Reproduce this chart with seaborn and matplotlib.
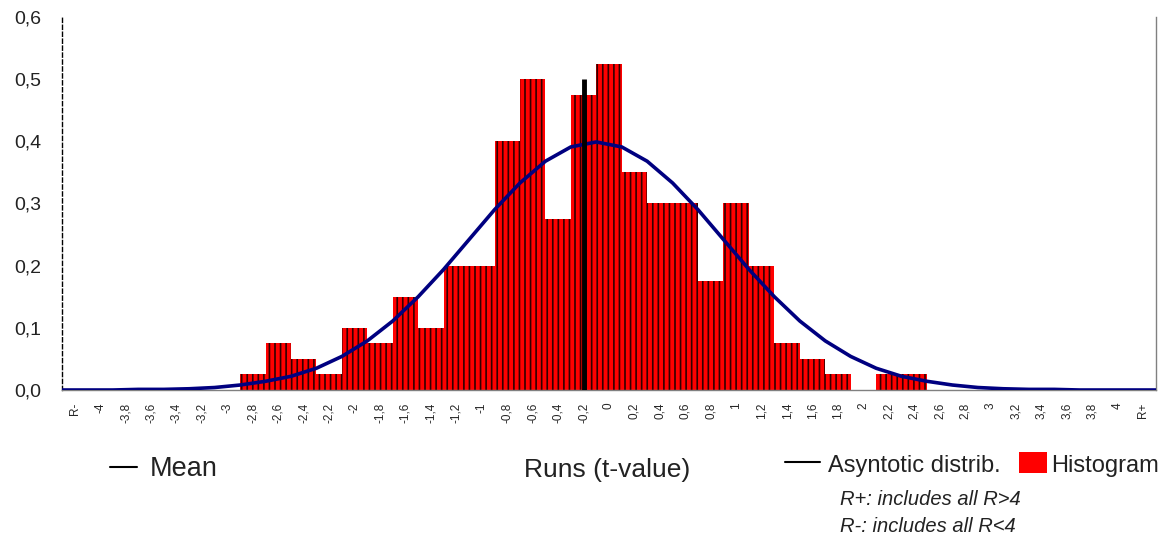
import numpy as np
import pandas as pd
import matplotlib
matplotlib.use("Agg")
import matplotlib.pyplot as plt
from matplotlib.lines import Line2D
from matplotlib.patches import Rectangle
import seaborn as sns

# categories (bins of width 0.2, plus the two open-ended bins)
bin_labels = ["R-", "-4", "-3,8", "-3,6", "-3,4", "-3,2", "-3", "-2,8", "-2,6", "-2,4",
              "-2,2", "-2", "-1,8", "-1,6", "-1,4", "-1,2", "-1", "-0,8", "-0,6", "-0,4",
              "-0,2", "0", "0,2", "0,4", "0,6", "0,8", "1", "1,2", "1,4", "1,6",
              "1,8", "2", "2,2", "2,4", "2,6", "2,8", "3", "3,2", "3,4", "3,6",
              "3,8", "4", "R+"]

# histogram density per bin
hist_density = [0, 0, 0, 0, 0, 0, 0, 0.025, 0.075, 0.05,
                0.025, 0.1, 0.075, 0.15, 0.1, 0.2, 0.2, 0.4, 0.5, 0.275,
                0.475, 0.525, 0.35, 0.3, 0.3, 0.175, 0.3, 0.2, 0.075, 0.05,
                0.025, 0, 0.025, 0.025, 0, 0, 0, 0, 0, 0,
                0, 0, 0]

# asymptotic distribution, read at the bin edges (44 edges)
asym_curve = [0.000, 0.000, 0.000, 0.001, 0.001, 0.002, 0.004, 0.008, 0.014, 0.022,
              0.035, 0.054, 0.079, 0.111, 0.150, 0.194, 0.242, 0.290, 0.333, 0.368,
              0.391, 0.399, 0.391, 0.368, 0.333, 0.290, 0.242, 0.194, 0.150, 0.111,
              0.079, 0.054, 0.035, 0.022, 0.014, 0.008, 0.004, 0.002, 0.001, 0.001,
              0.000, 0.000, 0.000, 0.000]

mean_label = "-0,2"
mean_height = 0.5

y_ticks = [0, 0.1, 0.2, 0.3, 0.4, 0.5, 0.6]
y_ticklabels = ["0,0", "0,1", "0,2", "0,3", "0,4", "0,5", "0,6"]

sns.set_style("white")
plt.rcParams["font.family"] = ["Liberation Sans", "DejaVu Sans"]
plt.rcParams["hatch.linewidth"] = 1.2

fig = plt.figure(figsize=(11.64, 5.41), dpi=100)
ax = fig.add_axes([62 / 1164, 1 - 390 / 541, 1094 / 1164, 373 / 541])

df = pd.DataFrame({"bin": bin_labels, "density": hist_density})
sns.barplot(data=df, x="bin", y="density", order=bin_labels, color="red",
            saturation=1, width=1, errorbar=None, edgecolor="#300000",
            linewidth=0, hatch="|||", ax=ax)

edge_pos = np.arange(len(asym_curve)) - 0.5
sns.lineplot(x=edge_pos, y=asym_curve, color="#000080", linewidth=2.6,
             sort=False, ax=ax, zorder=3)

ax.vlines(bin_labels.index(mean_label), 0, mean_height, color="black",
          linewidth=3.5, zorder=4)

ax.set_xlim(-0.5, len(bin_labels) - 0.5)
ax.set_ylim(0, 0.6)
ax.set_xlabel("")
ax.set_ylabel("")

ax.set_xticks(range(len(bin_labels)))
ax.set_xticklabels(bin_labels, rotation=90, fontsize=8.5)
ax.tick_params(axis="x", length=0, pad=9)
ax.set_yticks(y_ticks)
ax.set_yticklabels(y_ticklabels, fontsize=14, color="#222222")
ax.tick_params(axis="y", direction="inout", length=10, width=1, color="black", pad=10)

ax.spines["top"].set_visible(False)
ax.spines["left"].set_linestyle((0, (3, 2)))
ax.spines["left"].set_color("black")
ax.spines["right"].set_color("#808080")
ax.spines["bottom"].set_color("#808080")
for s in ["left", "right", "bottom"]:
    ax.spines[s].set_linewidth(1)

# bottom captions / legend
txt = "#222222"
fig.add_artist(Line2D([110 / 1164, 137 / 1164], [1 - 467 / 541] * 2,
                      color="black", linewidth=1.5, transform=fig.transFigure))
fig.text(150 / 1164, 1 - 476 / 541, "Mean", fontsize=19.5, va="baseline", color=txt)
fig.text(607 / 1164, 1 - 477 / 541, "Runs (t-value)", fontsize=19,
         ha="center", va="baseline", color=txt)
fig.add_artist(Line2D([785 / 1164, 820 / 1164], [1 - 462 / 541] * 2,
                      color="black", linewidth=1.5, transform=fig.transFigure))
fig.text(828 / 1164, 1 - 472 / 541, "Asyntotic distrib.", fontsize=17,
         va="baseline", color=txt)
fig.add_artist(Rectangle((1019 / 1164, 1 - 473 / 541), 28 / 1164, 21 / 541,
                         facecolor="red", edgecolor="none", transform=fig.transFigure))
fig.text(1051 / 1164, 1 - 472 / 541, "Histogram", fontsize=17, va="baseline", color=txt)
fig.text(840 / 1164, 1 - 505 / 541, "R+: includes all R>4", fontsize=14.5,
         style="italic", va="baseline", color=txt)
fig.text(840 / 1164, 1 - 532 / 541, "R-: includes all R<4", fontsize=14.5,
         style="italic", va="baseline", color=txt)

fig.savefig("out.png", dpi=100, facecolor="white")
